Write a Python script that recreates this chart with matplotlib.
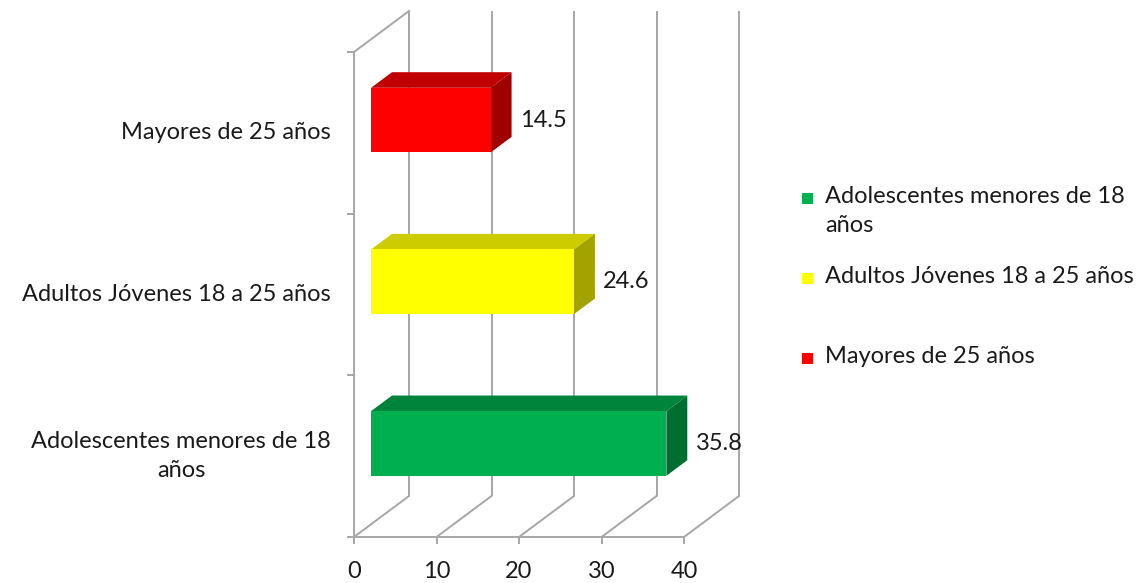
import matplotlib.pyplot as plt
from matplotlib.patches import Polygon

# data (bottom to top, as drawn)
categories = ["Adolescentes menores de 18\naños", "Adultos Jóvenes 18 a 25 años", "Mayores de 25 años"]
values = [35.8, 24.6, 14.5]
value_labels = ["35.8", "24.6", "14.5"]
x_ticks = [0, 10, 20, 30, 40]

front_colors = ["#00B050", "#FFFF00", "#FF0000"]
top_colors = ["#00843C", "#CCCC00", "#C00000"]
side_colors = ["#006E30", "#A3A300", "#A00000"]

plt.rcParams['font.family'] = ['Lato', 'DejaVu Sans']
TXT = "#1a1a1a"
GRID = "#A6A6A6"
FS = 17

fig = plt.figure(figsize=(11.46, 5.83), dpi=100)
ax = fig.add_axes([0, 0, 1, 1])
# x in value units (8.25 px / unit, 0 at px 354), y in category units (161.67 px / unit, 0 at px 537)
ax.set_xlim(-354 / 8.25, (1146 - 354) / 8.25)
ax.set_ylim(-(583 - 537) / 161.67, 537 / 161.67)
ax.axis('off')

# depth offsets of the back wall, in data units
DX = 55 / 8.25
DY = 41 / 161.67


def proj(v, c, d):
    return v + d * DX, c + d * DY


n = len(categories)

# back wall gridlines and floor lines
for v in x_ticks:
    x0, y0 = proj(v, 0, 1)
    x1, y1 = proj(v, n, 1)
    ax.plot([x0, x1], [y0, y1], color=GRID, lw=1.4, solid_capstyle='butt')
    xa, ya = proj(v, 0, 0)
    ax.plot([xa, x0], [ya, y0], color=GRID, lw=1.4)

# left wall: front axis line and top edge
ax.plot([0, 0], [0, n], color=GRID, lw=1.4)
xt, yt = proj(0, n, 1)
ax.plot([0, xt], [n, yt], color=GRID, lw=1.4)
# front bottom axis line
ax.plot([0, x_ticks[-1]], [0, 0], color=GRID, lw=1.4)

# ticks
for v in x_ticks:
    ax.plot([v, v], [0, -0.04], color=GRID, lw=1.4)
    ax.text(v, -0.215, str(v), ha='center', va='center', fontsize=FS, color=TXT)
for c in range(n + 1):
    ax.plot([0, -0.75], [c, c], color=GRID, lw=1.4)

# bars as boxes in the middle of the depth
d0, d1 = 0.31, 0.69
half = 0.2
for i, (v, lab) in enumerate(zip(values, value_labels)):
    c = i + 0.5
    lo, hi = c - half, c + half
    front = [proj(0, lo, d0), proj(v, lo, d0), proj(v, hi, d0), proj(0, hi, d0)]
    top = [proj(0, hi, d0), proj(v, hi, d0), proj(v, hi, d1), proj(0, hi, d1)]
    side = [proj(v, lo, d0), proj(v, lo, d1), proj(v, hi, d1), proj(v, hi, d0)]
    ax.add_patch(Polygon(top, closed=True, facecolor=top_colors[i], edgecolor='none', zorder=3))
    ax.add_patch(Polygon(side, closed=True, facecolor=side_colors[i], edgecolor='none', zorder=3))
    ax.add_patch(Polygon(front, closed=True, facecolor=front_colors[i], edgecolor='none', zorder=4))
    lx, ly = proj(v, c, d0)
    ax.text(lx + DX * 0.38 + 1.0, ly, lab, ha='left', va='center', fontsize=FS, color=TXT, zorder=5)

# category labels
for i, name in enumerate(categories):
    ax.text(-2.8, i + 0.5, name, ha='right', va='center', fontsize=FS, color=TXT,
            linespacing=1.45, multialignment='center')

# legend
leg_items = [(categories[0], front_colors[0], 198), (categories[1], front_colors[1], 278),
             (categories[2], front_colors[2], 358)]
for name, col, ypx in leg_items:
    fy = 1 - ypx / 583
    fig.patches.append(plt.Rectangle((802 / 1146, fy - 6 / 583), 11 / 1146, 11 / 583,
                                     transform=fig.transFigure, facecolor=col, edgecolor='none'))
    fig.text(825 / 1146, fy + 12 / 583, name, ha='left', va='top', fontsize=FS, color=TXT,
             linespacing=1.45)

fig.savefig("out.png", dpi=100)
